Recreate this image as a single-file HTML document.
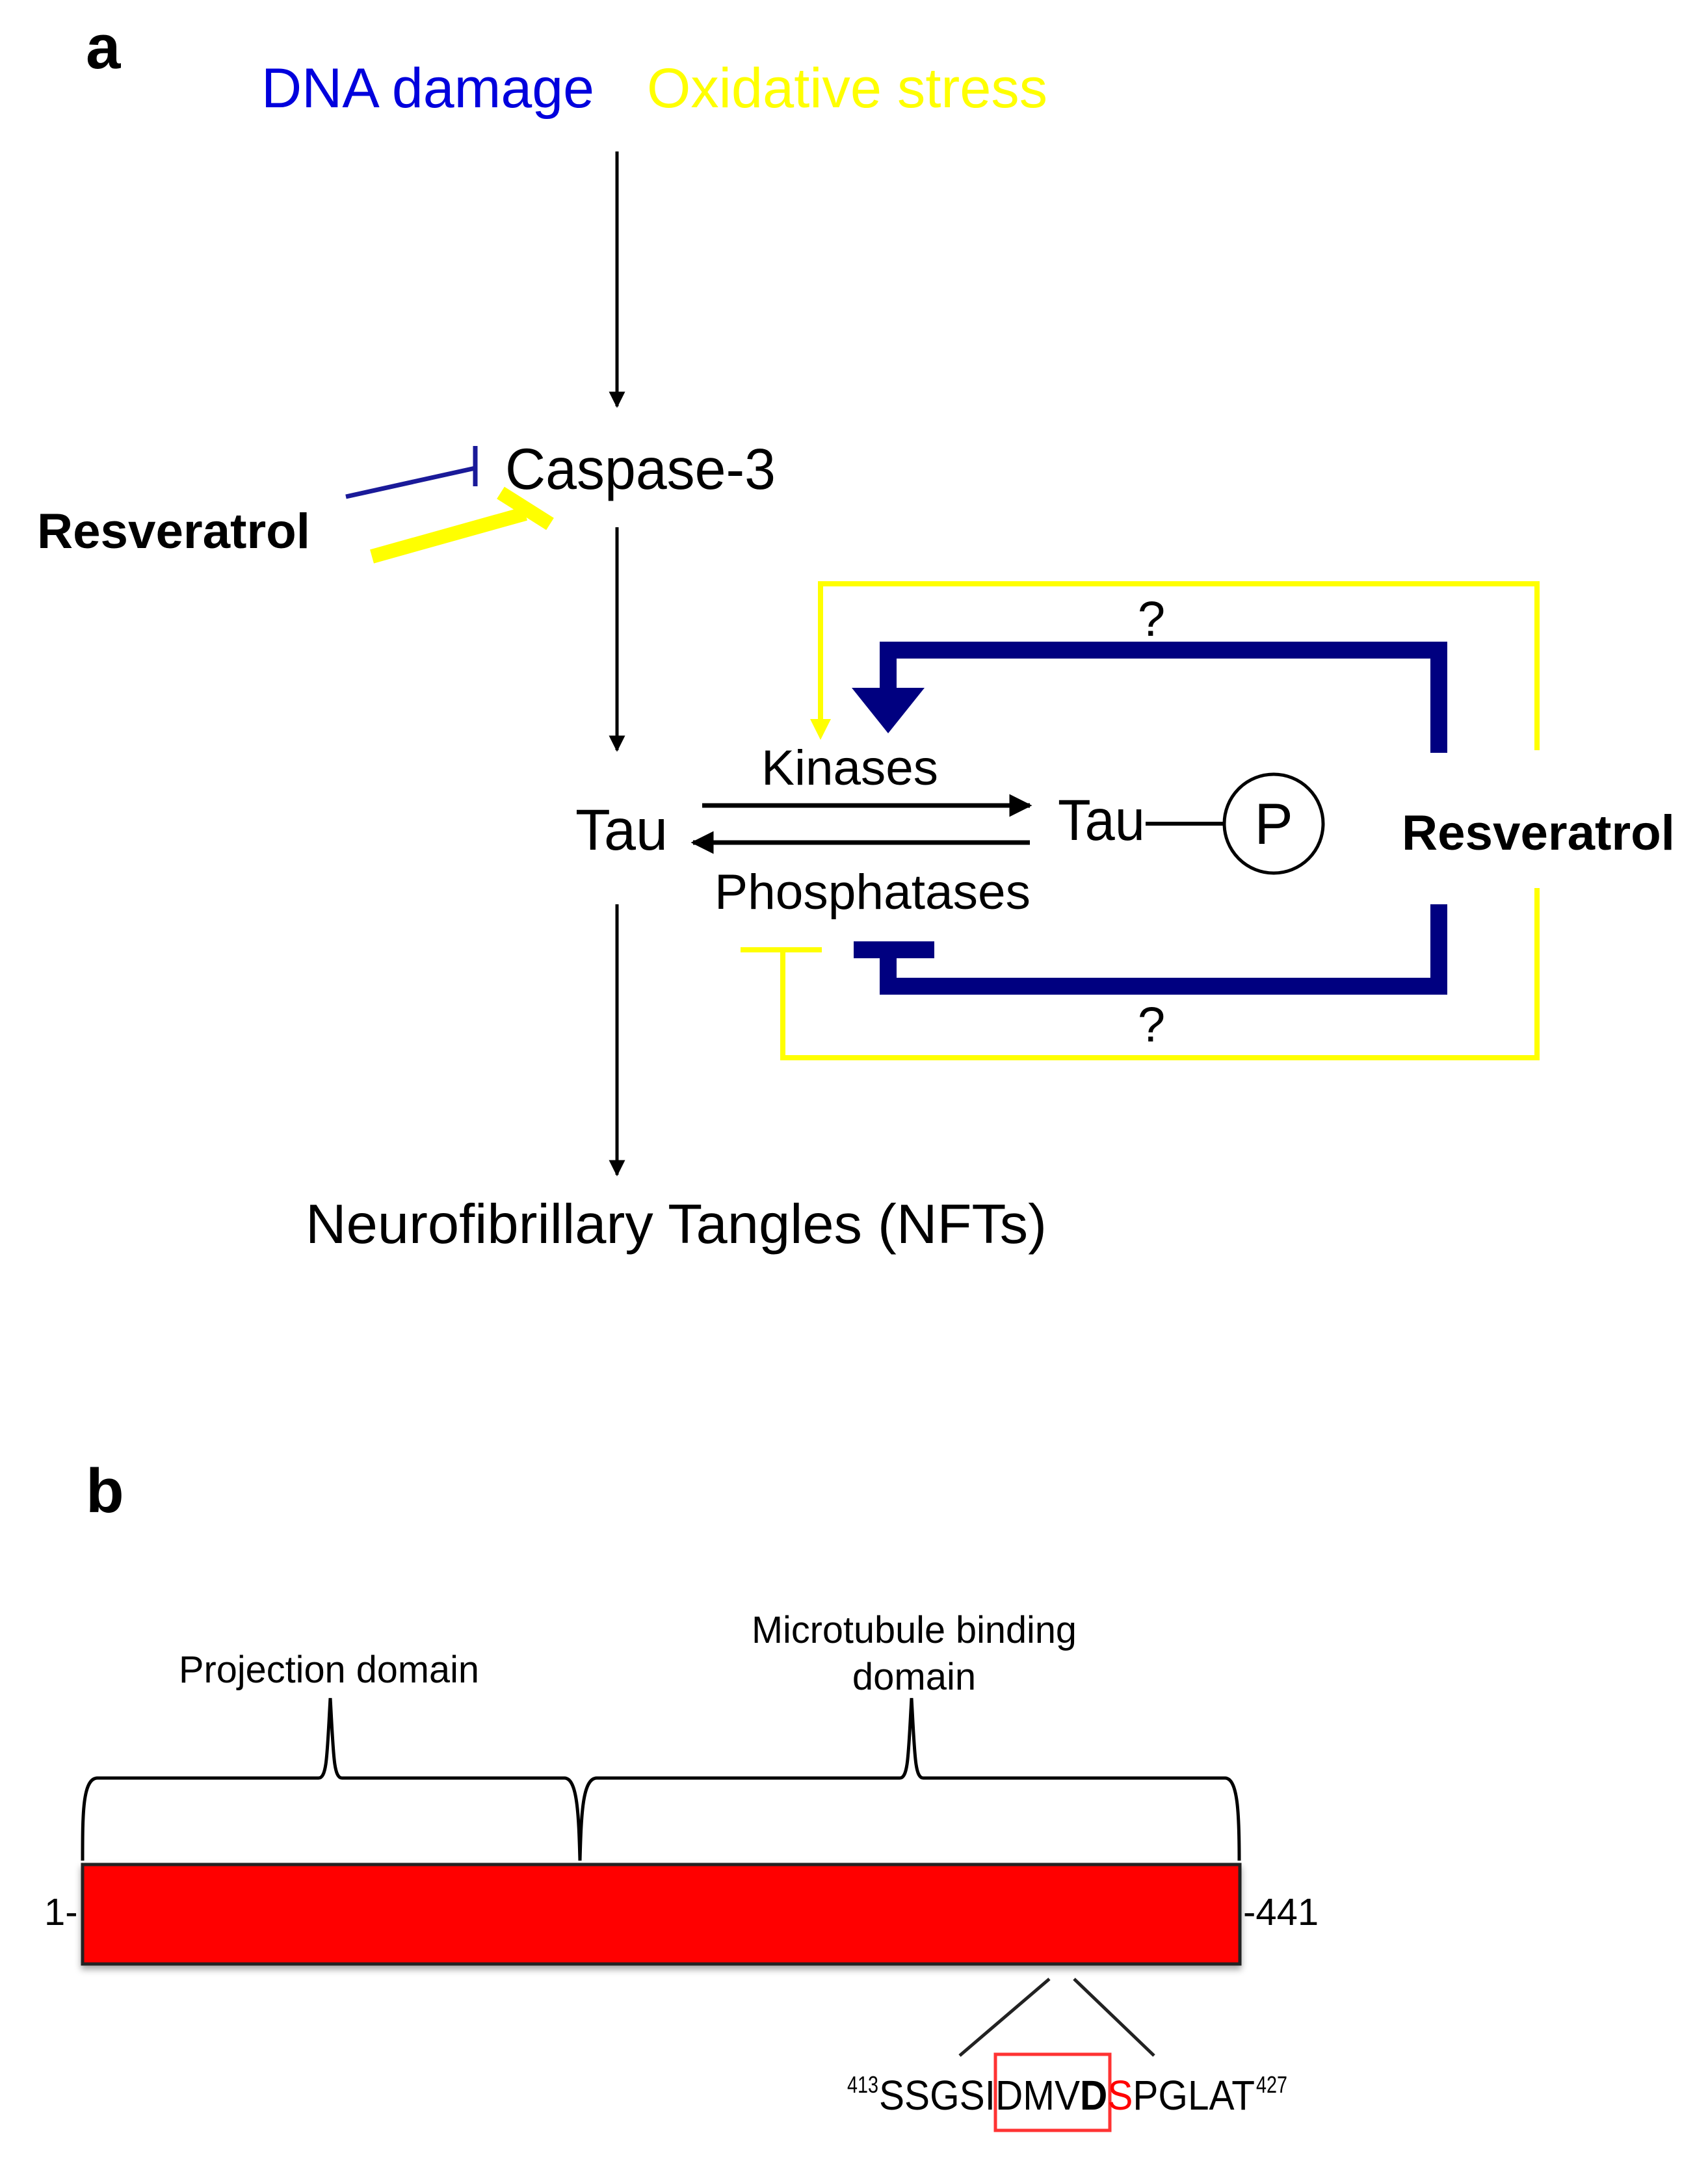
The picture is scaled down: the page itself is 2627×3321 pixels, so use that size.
<!DOCTYPE html>
<html><head><meta charset="utf-8"><style>
html,body{margin:0;padding:0;background:#fff;}
svg{display:block;}
text{font-family:"Liberation Sans",Arial,sans-serif;}
</style></head><body>
<svg width="2627" height="3321" viewBox="0 0 2627 3321" xmlns="http://www.w3.org/2000/svg">
<defs>
<marker id="ah" viewBox="0 0 10 10" refX="9" refY="5" markerWidth="5" markerHeight="5" orient="auto" markerUnits="strokeWidth"><path d="M0,0 L10,5 L0,10 z" fill="#000"/></marker>
<filter id="sh" x="-5%" y="-20%" width="110%" height="150%"><feDropShadow dx="0" dy="6" stdDeviation="5" flood-color="#000" flood-opacity="0.35"/></filter>
</defs>

<!-- panel a -->
<text x="132" y="105" font-size="96" font-weight="bold">a</text>
<text x="402" y="165" font-size="86" fill="#0000dd" textLength="512" lengthAdjust="spacingAndGlyphs">DNA damage</text>
<text x="995" y="165" font-size="86" fill="#ffff00" textLength="616" lengthAdjust="spacingAndGlyphs">Oxidative stress</text>

<line x1="949" y1="233" x2="949" y2="625" stroke="#000" stroke-width="5" marker-end="url(#ah)"/>
<text x="777" y="752" font-size="89" textLength="416" lengthAdjust="spacingAndGlyphs">Caspase-3</text>

<!-- inhibition from resveratrol -->
<line x1="532" y1="764" x2="731" y2="720" stroke="#1a1a99" stroke-width="7"/>
<line x1="731" y1="686" x2="731" y2="748" stroke="#1a1a99" stroke-width="7"/>
<line x1="572" y1="856" x2="808" y2="790" stroke="#ffff00" stroke-width="22"/>
<line x1="770" y1="758" x2="846" y2="806" stroke="#ffff00" stroke-width="22"/>
<text x="57" y="843" font-size="76" font-weight="bold" textLength="420" lengthAdjust="spacingAndGlyphs">Resveratrol</text>

<line x1="949" y1="811" x2="949" y2="1154" stroke="#000" stroke-width="5" marker-end="url(#ah)"/>

<text x="885" y="1307" font-size="89" textLength="142" lengthAdjust="spacingAndGlyphs">Tau</text>
<text x="1171" y="1207" font-size="76" textLength="272" lengthAdjust="spacingAndGlyphs">Kinases</text>
<line x1="1080" y1="1239" x2="1584" y2="1239" stroke="#000" stroke-width="7" marker-end="url(#ah)"/>
<line x1="1584" y1="1296" x2="1066" y2="1296" stroke="#000" stroke-width="7" marker-end="url(#ah)"/>
<text x="1099" y="1398" font-size="76" textLength="486" lengthAdjust="spacingAndGlyphs">Phosphatases</text>

<text x="1627" y="1292" font-size="89" textLength="134" lengthAdjust="spacingAndGlyphs">Tau</text>
<line x1="1762" y1="1267" x2="1883" y2="1267" stroke="#000" stroke-width="6"/>
<circle cx="1959" cy="1267" r="76" fill="#fff" stroke="#000" stroke-width="5"/>
<text x="1959" y="1298" font-size="89" text-anchor="middle">P</text>
<text x="2156" y="1307" font-size="76" font-weight="bold" textLength="420" lengthAdjust="spacingAndGlyphs">Resveratrol</text>

<!-- yellow top loop -->
<polyline points="2364,1154 2364,898 1262,898 1262,1110" fill="none" stroke="#ffff00" stroke-width="8"/>
<path d="M1246,1106 L1278,1106 L1262,1138 z" fill="#ffff00"/>
<!-- blue top -->
<polyline points="2213,1158 2213,1000 1366,1000 1366,1062" fill="none" stroke="#000080" stroke-width="26"/>
<path d="M1310,1058 L1422,1058 L1366,1128 z" fill="#000080"/>
<text x="1771" y="978" font-size="76" text-anchor="middle">?</text>

<!-- blue bottom -->
<polyline points="2213,1391 2213,1517 1366,1517 1366,1461" fill="none" stroke="#000080" stroke-width="26"/>
<line x1="1313" y1="1461" x2="1437" y2="1461" stroke="#000080" stroke-width="26"/>
<!-- yellow bottom -->
<polyline points="2364,1366 2364,1627 1204,1627 1204,1461" fill="none" stroke="#ffff00" stroke-width="8"/>
<line x1="1139" y1="1461" x2="1264" y2="1461" stroke="#ffff00" stroke-width="8"/>
<text x="1771" y="1602" font-size="76" text-anchor="middle">?</text>

<line x1="949" y1="1391" x2="949" y2="1807" stroke="#000" stroke-width="5" marker-end="url(#ah)"/>
<text x="470" y="1912" font-size="85" textLength="1140" lengthAdjust="spacingAndGlyphs">Neurofibrillary Tangles (NFTs)</text>

<!-- panel b -->
<text x="132" y="2326" font-size="96" font-weight="bold">b</text>
<text x="275" y="2588" font-size="58" textLength="462" lengthAdjust="spacingAndGlyphs">Projection domain</text>
<text x="1406" y="2527" font-size="58" text-anchor="middle" textLength="500" lengthAdjust="spacingAndGlyphs">Microtubule binding</text>
<text x="1406" y="2599" font-size="58" text-anchor="middle">domain</text>

<!-- braces -->
<path d="M127,2862 C127,2790 127,2735 150,2735 L490,2735 C503,2735 503,2700 508,2612 C513,2700 513,2735 526,2735 L868,2735 C888,2735 890,2790 892,2862" fill="none" stroke="#000" stroke-width="5"/>
<path d="M892,2862 C894,2790 896,2735 918,2735 L1384,2735 C1397,2735 1397,2700 1402,2612 C1407,2700 1407,2735 1420,2735 L1884,2735 C1904,2735 1906,2790 1906,2862" fill="none" stroke="#000" stroke-width="5"/>

<rect x="127" y="2868" width="1780" height="153" fill="#ff0000" stroke="#222" stroke-width="5" filter="url(#sh)"/>
<text x="68" y="2961" font-size="58">1-</text>
<text x="1912" y="2961" font-size="58">-441</text>

<line x1="1614" y1="3044" x2="1476" y2="3162" stroke="#222" stroke-width="5"/>
<line x1="1652" y1="3044" x2="1775" y2="3162" stroke="#222" stroke-width="5"/>

<rect x="1531" y="3160" width="176" height="117" fill="none" stroke="#ff3333" stroke-width="5"/>
<text x="1303" y="3245" font-size="36" textLength="48" lengthAdjust="spacingAndGlyphs" dy="-26">413</text>
<text x="1352" y="3245" font-size="64" textLength="578" lengthAdjust="spacingAndGlyphs">SSGSIDMV<tspan font-weight="bold">D</tspan><tspan fill="#ff0000">S</tspan>PGLAT</text>
<text x="1932" y="3219" font-size="36" textLength="48" lengthAdjust="spacingAndGlyphs">427</text>
</svg>
</body></html>
